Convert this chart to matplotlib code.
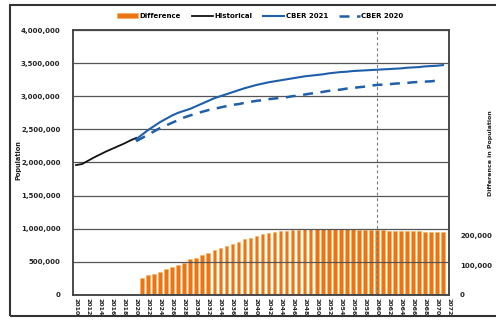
import numpy as np
import matplotlib
matplotlib.use("Agg")
from matplotlib import pyplot as plt
from matplotlib.patches import Rectangle
from matplotlib.ticker import FuncFormatter

# historical population, 2010-2020
hist_years = list(range(2010, 2021))
hist_pop = [1960000, 1975000, 2025000, 2075000, 2120000, 2165000,
            2205000, 2245000, 2285000, 2330000, 2370000]

# CBER 2021 projection, 2020-2071
cber21_years = list(range(2020, 2072))
cber21_pop = [2350000, 2420000, 2490000, 2550000, 2610000, 2660000, 2710000, 2750000,
              2780000, 2810000, 2850000, 2890000, 2930000, 2970000, 3000000, 3030000,
              3060000, 3090000, 3120000, 3145000, 3170000, 3190000, 3210000, 3225000,
              3240000, 3255000, 3270000, 3285000, 3300000, 3310000, 3320000, 3330000,
              3345000, 3355000, 3365000, 3370000, 3380000, 3385000, 3390000, 3395000,
              3400000, 3405000, 3410000, 3415000, 3420000, 3430000, 3435000, 3440000,
              3450000, 3455000, 3460000, 3470000]

# CBER 2020 projection, 2020-2070
cber20_years = list(range(2020, 2071))
cber20_pop = [2320000, 2370000, 2420000, 2470000, 2520000, 2560000, 2600000, 2640000,
              2680000, 2710000, 2740000, 2765000, 2790000, 2810000, 2830000, 2850000,
              2870000, 2880000, 2900000, 2915000, 2930000, 2940000, 2955000, 2965000,
              2975000, 2985000, 3000000, 3010000, 3025000, 3040000, 3050000, 3065000,
              3080000, 3090000, 3100000, 3115000, 3125000, 3135000, 3145000, 3160000,
              3170000, 3175000, 3180000, 3190000, 3195000, 3200000, 3210000, 3215000,
              3220000, 3225000, 3235000]

# difference between the two projections, 2021-2071
diff_years = list(range(2021, 2072))
diff_pop = [57000, 66000, 72000, 77000, 86000, 94000, 101000, 109000, 120000, 126000,
            134000, 143000, 151000, 158000, 167000, 173000, 180000, 188000, 194000, 201000,
            206000, 210000, 213000, 216000, 218000, 220000, 221000, 222000, 222000, 223000,
            223000, 223000, 222000, 222000, 222000, 222000, 221000, 221000, 220000, 219000,
            219000, 218000, 218000, 217000, 217000, 216000, 216000, 215000, 215000, 214000,
            214000]

year_ticks = list(range(2010, 2073, 2))
pop_ticks = list(range(0, 4000001, 500000))
diff_ticks = [0, 100000, 200000]

comma = FuncFormatter(lambda v, p: f"{int(v):,}")

fig = plt.figure(figsize=(4.96, 3.2), dpi=100)
ax = fig.add_axes([73 / 496, 1 - 294.8 / 320, 376 / 496, 264.8 / 320])
ax2 = ax.twinx()

ax.set_zorder(1)
ax.patch.set_visible(False)
ax2.set_zorder(0)

# bars on secondary axis
ax2.bar(diff_years, diff_pop, width=0.62, color="#ED7218", edgecolor="#F6B24A",
        linewidth=0.4, label="Difference")
ax2.set_ylim(0, 900000)
ax2.set_yticks(diff_ticks)
ax2.yaxis.set_major_formatter(comma)
ax2.tick_params(axis="y", length=0, pad=8, labelsize=5, colors="#222222")
ax2.axvline(2060, color="#777777", lw=0.8, ls=(0, (2.5, 2.5)), zorder=5)

# lines on primary axis
ax.plot(hist_years, hist_pop, color="#111111", lw=1.3, label="Historical")
ax.plot(cber21_years, cber21_pop, color="#1F5FAA", lw=1.5, label="CBER 2021")
ax.plot(cber20_years, cber20_pop, color="#1F5FAA", lw=1.8, ls=(0, (4, 3)),
        label="CBER 2020")

ax.set_xlim(2009.5, 2072)
ax.set_ylim(0, 4000000)
ax.set_yticks(pop_ticks)
ax.yaxis.set_major_formatter(comma)
ax.set_xticks(year_ticks)
ax.set_xticklabels([str(y) for y in year_ticks], rotation=270, fontsize=4.5,
                   fontweight="bold", color="#222222")
ax.tick_params(axis="y", length=0, pad=9, labelsize=5, colors="#222222")
ax.tick_params(axis="x", length=0, pad=2)
for lab in ax.get_yticklabels() + ax2.get_yticklabels():
    lab.set_fontweight("bold")

ax.grid(axis="y", color="#555555", lw=0.9)
ax.set_axisbelow(True)
for a in (ax, ax2):
    for s in a.spines.values():
        s.set_color("#444444")
        s.set_linewidth(1.1)

fig.text(18 / 496, 0.5, "Population", rotation=90, fontsize=4.8,
         fontweight="bold", ha="center", va="center", color="#222222")
fig.text(0.988, 0.52, "Difference in Population", rotation=90, fontsize=4.5,
         fontweight="bold", ha="center", va="center", color="#222222")

# legend above plot
h1, l1 = ax2.get_legend_handles_labels()
h2, l2 = ax.get_legend_handles_labels()
leg = fig.legend(h1 + h2, l1 + l2, loc="center", bbox_to_anchor=(0.525, 0.95),
                 ncol=4, frameon=False, fontsize=5, handlelength=3.0,
                 handleheight=0.6, columnspacing=1.6, handletextpad=0.2)
for t in leg.get_texts():
    t.set_fontweight("bold")

# outer chart border
fig.patches.append(Rectangle((10 / 496, 1 - 316 / 320), 1.0, (316 - 5) / 320,
                             transform=fig.transFigure, fill=False,
                             edgecolor="#333333", lw=1.5))

fig.savefig("out.png", dpi=100)
